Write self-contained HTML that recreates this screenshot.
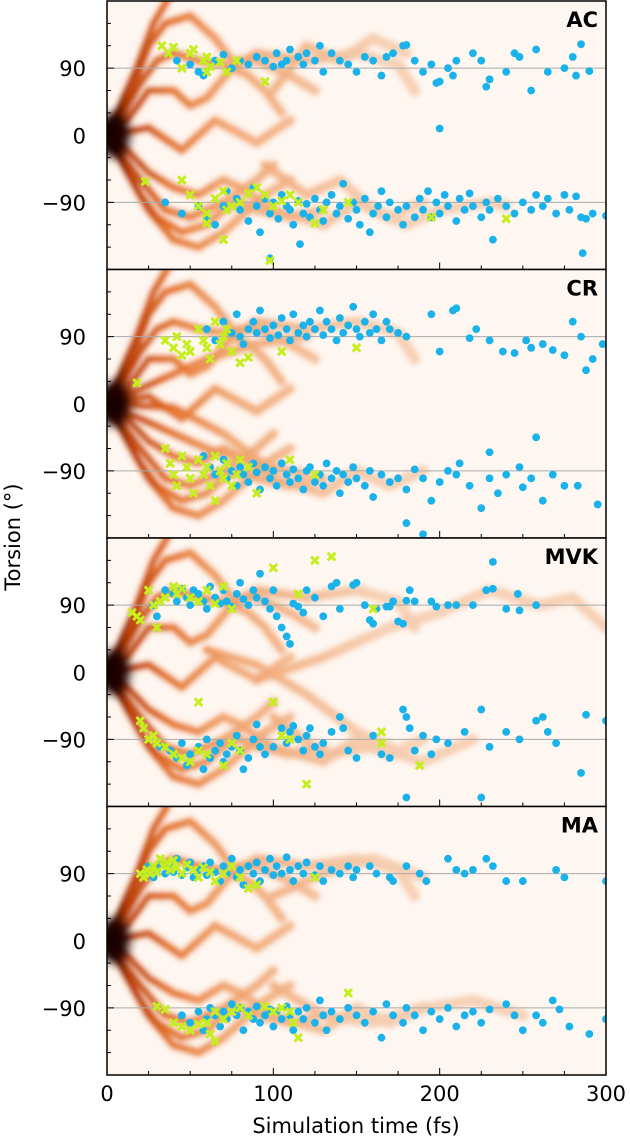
<!DOCTYPE html>
<html><head><meta charset="utf-8">
<style>
html,body{margin:0;padding:0;background:#fff;}
svg{display:block;font-family:"DejaVu Sans","Liberation Sans",sans-serif;}
</style></head>
<body>
<svg id="chart" width="630" height="1142" viewBox="0 0 630 1142" xmlns="http://www.w3.org/2000/svg">
<defs>
<filter id="blur" x="-10%" y="-10%" width="120%" height="120%"><feGaussianBlur stdDeviation="2"/></filter>
<filter id="blur2" x="-50%" y="-50%" width="200%" height="200%"><feGaussianBlur stdDeviation="5"/></filter>
<linearGradient id="trajGrad" gradientUnits="userSpaceOnUse" x1="107" y1="0" x2="380" y2="0">
<stop offset="0" stop-color="#2a0500"/><stop offset="0.08" stop-color="#b83a00"/><stop offset="0.22" stop-color="#e2681a"/><stop offset="0.45" stop-color="#f0a068"/><stop offset="1" stop-color="#f6cdb0"/>
</linearGradient>
</defs>
<g id="plots"></g>
<text x="0" y="0" transform="translate(20,537) rotate(-90)" text-anchor="middle" font-size="21" fill="#000">Torsion (°)</text>
<text x="356" y="1133" text-anchor="middle" font-size="21" fill="#000">Simulation time (fs)</text>
</svg>
<script>
// ---- data ----
const panelNames = ["AC","CR","MVK","MA"];
const xTicks = [0,100,200,300];
const yTicks = [90,0,-90];
const yTickLabels = ["90","0","\u221290"];

const dotsAC = [[42,100],[50,95],[55,85],[58,80],[65,100],[70,108],[75,90],[80,100],[85,95],[90,105],[95,100],[100,92],[102,110],[105,95],[108,100],[110,115],[115,105],[118,95],[120,110],[125,100],[128,120],[130,85],[135,110],[140,100],[145,95],[150,85],[155,105],[160,100],[165,80],[168,105],[172,110],[178,120],[180,121],[185,100],[190,85],[195,95],[198,70],[200,72],[205,90],[208,80],[210,100],[220,110],[225,100],[228,65],[230,75],[240,85],[245,110],[248,105],[255,60],[258,115],[265,85],[275,90],[280,105],[282,80],[285,122],[290,86],[200,9],
[35,-90],[45,-105],[55,-95],[60,-110],[65,-120],[70,-95],[72,-75],[78,-85],[80,-100],[85,-115],[88,-70],[90,-95],[92,-130],[95,-85],[98,-105],[100,-90],[103,-112],[105,-80],[108,-95],[110,-100],[112,-120],[115,-88],[118,-105],[120,-92],[122,-110],[125,-85],[128,-100],[130,-115],[132,-90],[135,-80],[138,-105],[140,-95],[142,-65],[145,-112],[148,-90],[150,-100],[152,-120],[155,-85],[158,-130],[160,-105],[163,-95],[165,-75],[168,-110],[170,-90],[175,-100],[178,-120],[180,-95],[185,-110],[188,-85],[190,-100],[193,-75],[195,-110],[198,-90],[200,-105],[203,-80],[205,-95],[210,-115],[212,-85],[215,-100],[218,-78],[220,-95],[225,-110],[228,-90],[230,-100],[232,-140],[235,-85],[240,-95],[245,-105],[250,-90],[255,-100],[258,-80],[262,-95],[265,-85],[270,-105],[275,-80],[278,-100],[282,-82],[285,-110],[288,-112],[292,-105],[286,-158],[300,-108],[98,-165],[116,-146]];
const crossAC = [[33,120],[37,110],[40,118],[45,90],[50,110],[52,115],[58,100],[60,105],[62,92],[68,98],[72,85],[78,100],[60,85],[95,72],[45,-60],[50,-80],[55,-95],[60,-105],[65,-85],[70,-75],[72,-100],[75,-95],[80,-90],[85,-78],[90,-70],[95,-80],[100,-95],[105,-88],[110,-80],[115,-90],[130,-100],[60,-118],[70,-140],[98,-168],[23,-62],[125,-118],[145,-90],[195,-110],[240,-112]];

const dotsCR = [[60,100],[65,85],[70,110],[75,95],[78,120],[80,90],[82,80],[85,100],[88,110],[90,95],[92,125],[95,100],[98,88],[100,105],[103,92],[105,115],[108,100],[110,85],[112,120],[115,95],[118,105],[120,90],[122,110],[125,100],[128,125],[130,92],[132,110],[135,100],[138,85],[140,115],[142,95],[145,105],[148,130],[150,100],[152,90],[155,110],[158,95],[160,120],[162,100],[165,85],[168,110],[170,100],[175,95],[180,90],[195,120],[200,70],[208,125],[210,128],[218,88],[222,100],[230,85],[238,70],[245,68],[252,85],[255,75],[262,80],[268,72],[275,65],[280,110],[285,90],[288,45],[292,60],[298,80],[58,-70],[62,-85],[65,-95],[70,-75],[72,-100],[75,-90],[78,-110],[80,-85],[82,-95],[85,-105],[88,-80],[90,-92],[92,-115],[95,-85],[98,-100],[100,-90],[102,-110],[105,-80],[108,-95],[110,-105],[112,-88],[115,-100],[118,-115],[120,-90],[122,-85],[125,-105],[128,-95],[130,-110],[132,-80],[135,-100],[138,-90],[140,-120],[142,-95],[145,-105],[148,-85],[150,-100],[155,-110],[158,-90],[160,-125],[165,-95],[170,-105],[175,-100],[180,-115],[185,-88],[190,-100],[195,-130],[200,-105],[205,-90],[210,-95],[218,-110],[225,-140],[230,-100],[235,-120],[240,-95],[248,-85],[255,-100],[262,-130],[268,-95],[275,-110],[283,-110],[295,-135],[180,-160],[190,-175],[212,-80],[230,-65],[258,-45],[250,-112]];
const crossCR = [[18,28],[35,85],[40,75],[42,90],[45,65],[48,80],[50,70],[55,100],[58,85],[60,75],[62,60],[65,110],[68,80],[70,90],[72,100],[75,70],[80,55],[85,62],[105,70],[150,75],[35,-60],[38,-80],[40,-95],[42,-110],[45,-70],[48,-85],[50,-100],[52,-120],[55,-75],[58,-95],[60,-85],[62,-110],[65,-70],[68,-90],[70,-100],[72,-80],[75,-110],[78,-95],[80,-75],[85,-85],[90,-120],[65,-130],[110,-75],[125,-95]];

const dotsMVK = [[28,90],[30,75],[35,110],[40,105],[42,95],[45,112],[48,100],[50,90],[52,110],[55,105],[58,95],[60,85],[62,115],[65,100],[68,92],[70,110],[72,95],[75,88],[78,105],[80,120],[82,98],[85,90],[88,110],[90,100],[92,132],[95,95],[98,85],[100,110],[102,75],[105,60],[108,48],[110,38],[112,92],[115,88],[118,80],[120,110],[125,100],[130,75],[135,115],[138,120],[140,85],[148,117],[150,120],[155,90],[158,70],[160,65],[162,85],[168,88],[170,88],[172,95],[175,68],[178,65],[180,96],[182,110],[185,95],[195,95],[198,88],[205,90],[210,90],[220,90],[228,110],[232,112],[240,85],[247,105],[248,83],[258,90],[232,148],[32,-100],[38,-105],[42,-115],[45,-95],[48,-125],[50,-110],[55,-100],[58,-130],[60,-90],[62,-115],[65,-105],[68,-95],[70,-120],[72,-110],[75,-100],[78,-85],[80,-105],[82,-130],[85,-115],[88,-90],[90,-70],[92,-100],[95,-110],[100,-100],[105,-75],[108,-95],[110,-80],[112,-72],[115,-90],[118,-105],[120,-85],[122,-75],[125,-100],[128,-110],[130,-95],[135,-80],[140,-60],[142,-75],[145,-105],[150,-115],[160,-85],[165,-110],[170,-115],[178,-50],[180,-60],[182,-75],[185,-105],[190,-85],[195,-110],[198,-90],[205,-95],[215,-80],[225,-50],[230,-100],[240,-80],[248,-90],[258,-65],[262,-60],[265,-80],[285,-135],[300,-65],[180,-168],[225,-168],[288,-57],[270,-95]];
const crossMVK = [[15,80],[18,75],[20,70],[25,110],[28,90],[32,95],[35,100],[40,115],[42,105],[45,112],[50,100],[55,95],[60,110],[65,92],[70,115],[75,85],[30,60],[55,-40],[100,140],[115,105],[125,150],[135,155],[160,85],[20,-65],[22,-75],[25,-90],[28,-85],[30,-95],[35,-100],[40,-110],[45,-115],[50,-120],[55,-105],[60,-110],[70,-125],[75,-95],[80,-105],[100,-40],[105,-85],[110,-90],[120,-150],[165,-80],[165,-95],[188,-125]];

const dotsMA = [[22,90],[25,100],[28,85],[30,95],[32,105],[35,90],[38,100],[40,92],[42,110],[45,88],[48,98],[50,105],[52,85],[55,95],[58,100],[60,88],[62,105],[65,92],[68,80],[70,100],[72,90],[75,110],[78,85],[80,95],[82,75],[85,100],[88,90],[90,105],[92,80],[95,95],[98,110],[100,88],[102,100],[105,90],[108,112],[110,95],[112,80],[115,100],[118,90],[120,105],[125,88],[128,100],[130,80],[135,95],[140,90],[145,100],[148,85],[150,95],[158,100],[162,90],[170,85],[172,80],[180,100],[188,90],[192,80],[205,110],[210,95],[215,90],[220,95],[228,110],[232,100],[240,80],[250,80],[270,95],[275,85],[300,80],[45,-100],[50,-110],[55,-95],[58,-120],[60,-105],[62,-90],[65,-100],[68,-115],[70,-95],[72,-105],[75,-85],[78,-100],[80,-90],[82,-120],[85,-95],[88,-105],[90,-88],[92,-110],[95,-100],[98,-92],[100,-115],[102,-95],[105,-105],[108,-88],[110,-100],[112,-120],[115,-95],[118,-105],[120,-90],[125,-110],[128,-80],[130,-100],[132,-120],[135,-95],[140,-105],[145,-90],[150,-100],[155,-110],[160,-95],[165,-130],[168,-85],[172,-100],[178,-110],[180,-90],[185,-100],[190,-120],[195,-95],[200,-105],[205,-90],[210,-115],[215,-100],[220,-95],[225,-110],[230,-92],[240,-85],[245,-100],[250,-120],[258,-100],[262,-110],[268,-80],[272,-92],[278,-115],[290,-125],[300,-105]];
const crossMA = [[20,90],[22,85],[24,95],[26,90],[28,100],[30,92],[32,110],[34,100],[36,105],[38,95],[40,108],[42,98],[45,90],[48,102],[52,95],[55,85],[58,98],[62,92],[65,80],[70,90],[75,100],[80,85],[85,70],[90,75],[125,85],[30,-88],[35,-92],[40,-110],[45,-115],[50,-120],[55,-112],[60,-110],[62,-125],[65,-95],[70,-105],[75,-95],[80,-90],[85,-100],[95,-88],[100,-95],[105,-90],[110,-95],[112,-110],[115,-130],[65,-135],[145,-70]];

// density ridge trajectories [t, angle]
const trajCommon = [
 [[0,0],[10,30],[20,70],[30,100],[40,110],[55,100],[70,95],[85,80],[95,60],[105,30]],
 [[0,0],[15,60],[25,120],[35,150],[50,160],[65,130],[75,100],[90,100],[110,80],[125,60]],
 [[0,0],[12,20],[25,60],[40,60],[50,40],[60,50],[75,90],[90,110],[120,100],[150,110],[175,95],[185,60]],
 [[0,0],[18,90],[28,150],[36,180]],
 [[0,0],[10,-40],[20,-80],[30,-110],[45,-130],[60,-120],[70,-100],[80,-90],[90,-100],[110,-110],[130,-100]],
 [[0,0],[15,-60],[25,-100],[40,-140],[55,-150],[70,-130],[85,-100],[95,-80],[110,-60]],
 [[0,0],[12,-20],[25,-50],[40,-70],[55,-80],[70,-60],[80,-70],[100,-100],[130,-120],[150,-90],[170,-110],[190,-90]],
 [[0,0],[20,-60],[35,-100],[50,-110],[70,-90],[90,-60],[100,-40]],
 [[0,0],[25,10],[45,-20],[65,20],[90,-10],[110,20]]
];
const trajAC = [[[95,-40],[120,-80],[140,-60],[160,-100],[180,-120],[200,-100],[230,-90],[240,-95]],[[100,60],[120,120],[140,100],[160,130],[180,110]]];
const trajCR = [[[0,0],[30,-30],[60,-60],[90,-80],[120,-95]],[[0,0],[30,30],[60,60],[90,80],[120,90]],[[0,0],[40,-5],[70,-40],[100,-90]]];
const trajMVK = [[[60,30],[90,10],[120,-30],[150,-80],[170,-100]],[[90,-10],[130,20],[170,60],[200,80],[230,110],[260,90],[280,100],[300,60]],[[100,-60],[130,-110],[160,-100],[190,-120],[220,-90]]];
const trajMA = [[[100,-60],[130,-100],[160,-110],[190,-90],[220,-80],[250,-100]],[[100,60],[130,90],[160,110],[190,85]]];
const panelDots = [dotsAC,dotsCR,dotsMVK,dotsMA];
const panelCross = [crossAC,crossCR,crossMVK,crossMA];
const panelTraj = [trajAC,trajCR,trajMVK,trajMA];

// ---- layout ----
const NS = "http://www.w3.org/2000/svg";
const X0 = 107, X1 = 606, PH = 268.5, TOP = 1;
const xScale = t => X0 + (t/300)*(X1-X0);
const yScaleFor = i => a => TOP + i*PH + (180-a)/360*PH;
const root = document.getElementById("plots");
function mk(tag, attrs, parent){ const e=document.createElementNS(NS,tag); for(const k in attrs) e.setAttribute(k,attrs[k]); (parent||root).appendChild(e); return e; }
function pathOf(pts, ys){
  let d=""; pts.forEach((p,j)=>{ d += (j?"L":"M")+xScale(p[0]).toFixed(1)+","+ys(p[1]).toFixed(1); }); return d;
}

panelNames.forEach((name,i)=>{
  const ys = yScaleFor(i);
  const top = TOP+i*PH;
  const g = mk("g",{});
  
  
  const cid = "clip"+i;
  const cp = mk("clipPath",{id:cid},g); mk("rect",{x:X0,y:top,width:X1-X0,height:PH},cp);
  const bg = mk("rect",{x:X0,y:top,width:X1-X0,height:PH,fill:"#fef6f0"},g);
  
  
  const hm = mk("g",{"clip-path":"url(#"+cid+")"},g);
  
  
  const trajs = trajCommon.concat(panelTraj[i]);
  const gb = mk("g",{filter:"url(#blur)"},hm);
  trajs.forEach(tr=>{ mk("path",{d:pathOf(tr,ys),fill:"none",stroke:"#f6c8a8","stroke-width":13,"stroke-opacity":0.5,"stroke-linejoin":"round","stroke-linecap":"round"},gb); });
  trajs.forEach(tr=>{ mk("path",{d:pathOf(tr,ys),fill:"none",stroke:"url(#trajGrad)","stroke-width":7,"stroke-opacity":0.85,"stroke-linejoin":"round","stroke-linecap":"round"},gb); });
  mk("ellipse",{cx:xScale(4),cy:ys(0),rx:16,ry:22,fill:"#1a0500",filter:"url(#blur2)"},hm);
  // grid lines
  [90,-90].forEach(v=>{ const l=mk("line",{x1:X0,x2:X1,y1:ys(v),y2:ys(v),stroke:"#aaaaaa","stroke-width":1},g);   });
  // dots
  const dg = mk("g",{"clip-path":"url(#"+cid+")"},g);
  panelDots[i].forEach(p=>{
    const c = mk("circle",{cx:xScale(p[0]),cy:ys(p[1]),r:3.9,fill:"#1ab2ea"},dg);
    
    
  });
  panelCross[i].forEach(p=>{
    const x=xScale(p[0]), y=ys(p[1]), s=3.8;
    const c = mk("path",{d:`M${x-s},${y-s}L${x+s},${y+s}M${x-s},${y+s}L${x+s},${y-s}`,stroke:"#c6ee1e","stroke-width":3,fill:"none"},dg);
    
    
  });
  // frame
  const fr = mk("rect",{x:X0,y:top,width:X1-X0,height:PH,fill:"none",stroke:"#000","stroke-width":1.5},g);
  
  
  // y ticks
  for(let a=-150;a<=150;a+=30){
    const major = (a%90===0);
    mk("line",{x1:X0,x2:X0+(major?7:4),y1:ys(a),y2:ys(a),stroke:"#000","stroke-width":1},g);
  }
  yTicks.forEach((v,k)=>{
    const t = mk("text",{x:86,y:ys(v)+8,"text-anchor":"end","font-size":21,fill:"#000"},g);
    t.textContent = yTickLabels[k];
    
    
  });
  // x ticks
  for(let t=25;t<300;t+=25){
    const major = (t%100===0);
    mk("line",{x1:xScale(t),x2:xScale(t),y1:top+PH,y2:top+PH-(major?7:4),stroke:"#000","stroke-width":1},g);
  }
  const lab = mk("text",{x:X1-8,y:top+26,"text-anchor":"end","font-size":21,"font-weight":"bold",fill:"#000"},g);
  lab.textContent = name;
  
  
});
xTicks.forEach(v=>{
  const t = mk("text",{x:xScale(v),y:1101,"text-anchor":"middle","font-size":21,fill:"#000"});
  t.textContent = String(v);
  
  
});
</script>
</body></html>
